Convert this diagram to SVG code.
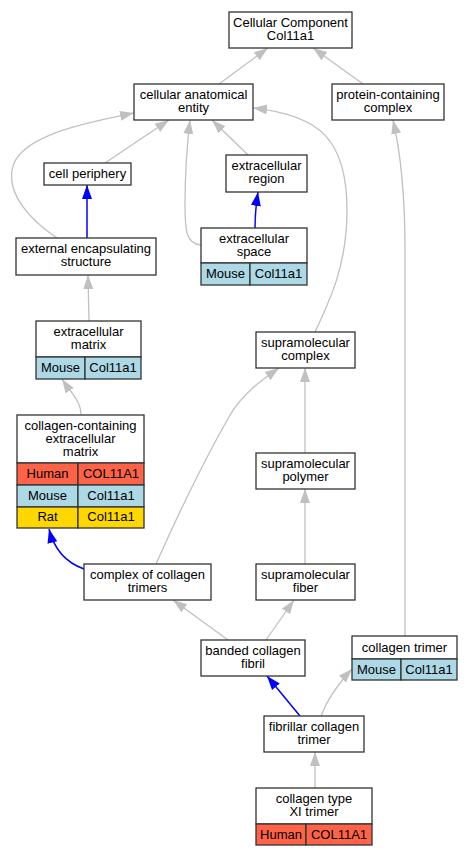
<svg xmlns="http://www.w3.org/2000/svg" width="472" height="856" viewBox="0 0 472 856">
<style>
text{font-family:"Liberation Sans",Arial,sans-serif;font-size:13px;fill:#000;text-anchor:middle}
.b{fill:#fff;stroke:#333;stroke-width:1.3}
.h{fill:#ff6347;stroke:#333;stroke-width:1.3}
.m{fill:#add8e6;stroke:#333;stroke-width:1.3}
.r{fill:#ffd700;stroke:#333;stroke-width:1.3}
.g{fill:none;stroke:#c0c0c0;stroke-width:1.3;marker-end:url(#ag)}
.u{fill:none;stroke:#0000ff;stroke-width:1.5;marker-end:url(#au)}
</style>
<defs>
<marker id="ag" markerUnits="userSpaceOnUse" markerWidth="16" markerHeight="12" refX="14" refY="5.5" orient="auto"><path d="M0,0.5 L14,5.5 L0,10.5 z" fill="#c0c0c0"/></marker>
<marker id="au" markerUnits="userSpaceOnUse" markerWidth="16" markerHeight="12" refX="14" refY="5.5" orient="auto"><path d="M0,0.5 L14,5.5 L0,10.5 z" fill="#0000ff"/></marker>
</defs>
<rect width="472" height="856" fill="#fff"/>
<g id="edges">
<path class="g" d="M219,84 L268,48"/>
<path class="g" d="M363,84 L313,48"/>
<path class="g" d="M105,163 L169,120"/>
<path class="g" d="M57,238 C30,220 8,195 12,170 C17,135 90,122 134,113"/>
<path class="g" d="M201,245 C186,244 185,230 185,205 C185,170 187,145 190,120"/>
<path class="g" d="M248,155 L212,120"/>
<path class="u" d="M255,228 C255,215 256,205 258,192"/>
<path class="u" d="M87,238 L87,185"/>
<path class="g" d="M315,332 C330,300 347,265 347,210 C347,140 320,115 253,108"/>
<path class="g" d="M405,636 L405,250 C405,190 400,150 393,120"/>
<path class="g" d="M89,321 L88,275"/>
<path class="g" d="M81,414 C81,402 72,394 62,379"/>
<path class="u" d="M84,569 C70,564 55,553 49,529"/>
<path class="g" d="M156,564 C180,510 210,450 230,415 C243,393 262,380 279,368"/>
<path class="g" d="M305,453 L305,368"/>
<path class="g" d="M305,564 L305,489"/>
<path class="g" d="M228,640 L173,600"/>
<path class="g" d="M266,640 L294,600"/>
<path class="u" d="M300,716 L267,676"/>
<path class="g" d="M321,716 C327,700 336,686 352,669"/>
<path class="g" d="M315,788 L315,752"/>
</g>
<g id="n_cc"><rect class="b" x="229" y="12" width="123" height="36"/><text x="290.5" y="26.5">Cellular Component</text><text x="290.5" y="39.5">Col11a1</text></g>
<g id="n_cae"><rect class="b" x="134" y="84" width="119" height="36"/><text x="193.5" y="98.5">cellular anatomical</text><text x="193.5" y="111.5">entity</text></g>
<g id="n_pcc"><rect class="b" x="332" y="84" width="112" height="36"/><text x="388" y="98.5">protein-containing</text><text x="388" y="111.5">complex</text></g>
<g id="n_cp"><rect class="b" x="44" y="163" width="87" height="22"/><text x="87.5" y="177.5">cell periphery</text></g>
<g id="n_er"><rect class="b" x="226" y="155" width="81" height="37"/><text x="266.5" y="170">extracellular</text><text x="266.5" y="183">region</text></g>
<g id="n_ees"><rect class="b" x="16" y="238" width="140" height="37"/><text x="86" y="253">external encapsulating</text><text x="86" y="266">structure</text></g>
<g id="n_es"><rect class="b" x="201" y="228" width="106" height="35"/><rect class="m" x="201" y="263" width="49" height="22"/><rect class="m" x="250" y="263" width="57" height="22"/><text x="254" y="242.5">extracellular</text><text x="254" y="255.5">space</text><text x="225.5" y="278">Mouse</text><text x="278.5" y="278">Col11a1</text></g>
<g id="n_ecm"><rect class="b" x="36" y="321" width="105" height="36"/><rect class="m" x="36" y="357" width="49" height="22"/><rect class="m" x="85" y="357" width="56" height="22"/><text x="88.5" y="335.5">extracellular</text><text x="88.5" y="348.5">matrix</text><text x="60.5" y="372">Mouse</text><text x="113" y="372">Col11a1</text></g>
<g id="n_cce"><rect class="b" x="17" y="415" width="127" height="48"/><rect class="h" x="17" y="463" width="61" height="22"/><rect class="h" x="78" y="463" width="66" height="22"/><rect class="m" x="17" y="485" width="61" height="22"/><rect class="m" x="78" y="485" width="66" height="22"/><rect class="r" x="17" y="507" width="61" height="21"/><rect class="r" x="78" y="507" width="66" height="21"/><text x="80.5" y="429.5">collagen-containing</text><text x="80.5" y="442.5">extracellular</text><text x="80.5" y="455.5">matrix</text><text x="47.5" y="478">Human</text><text x="111" y="478">COL11A1</text><text x="47.5" y="500">Mouse</text><text x="111" y="500">Col11a1</text><text x="47.5" y="521">Rat</text><text x="111" y="521">Col11a1</text></g>
<g id="n_smc"><rect class="b" x="256" y="332" width="99" height="36"/><text x="305.5" y="346.5">supramolecular</text><text x="305.5" y="359.5">complex</text></g>
<g id="n_smp"><rect class="b" x="256" y="453" width="99" height="36"/><text x="305.5" y="467.5">supramolecular</text><text x="305.5" y="480.5">polymer</text></g>
<g id="n_cct"><rect class="b" x="84" y="564" width="127" height="36"/><text x="147.5" y="578.5">complex of collagen</text><text x="147.5" y="591.5">trimers</text></g>
<g id="n_smf"><rect class="b" x="256" y="564" width="99" height="36"/><text x="305.5" y="578.5">supramolecular</text><text x="305.5" y="591.5">fiber</text></g>
<g id="n_bcf"><rect class="b" x="201" y="640" width="104" height="36"/><text x="253" y="654.5">banded collagen</text><text x="253" y="667.5">fibril</text></g>
<g id="n_ct"><rect class="b" x="352" y="636" width="105" height="23"/><rect class="m" x="352" y="659" width="49" height="21"/><rect class="m" x="401" y="659" width="56" height="21"/><text x="404.5" y="651.5">collagen trimer</text><text x="376.5" y="674">Mouse</text><text x="429" y="674">Col11a1</text></g>
<g id="n_fct"><rect class="b" x="264" y="716" width="100" height="36"/><text x="314" y="730.5">fibrillar collagen</text><text x="314" y="743.5">trimer</text></g>
<g id="n_c11"><rect class="b" x="256" y="788" width="116" height="36"/><rect class="h" x="256" y="824" width="50" height="21"/><rect class="h" x="306" y="824" width="66" height="21"/><text x="314" y="802.5">collagen type</text><text x="314" y="815.5">XI trimer</text><text x="281" y="839">Human</text><text x="339" y="839">COL11A1</text></g>
</svg>
